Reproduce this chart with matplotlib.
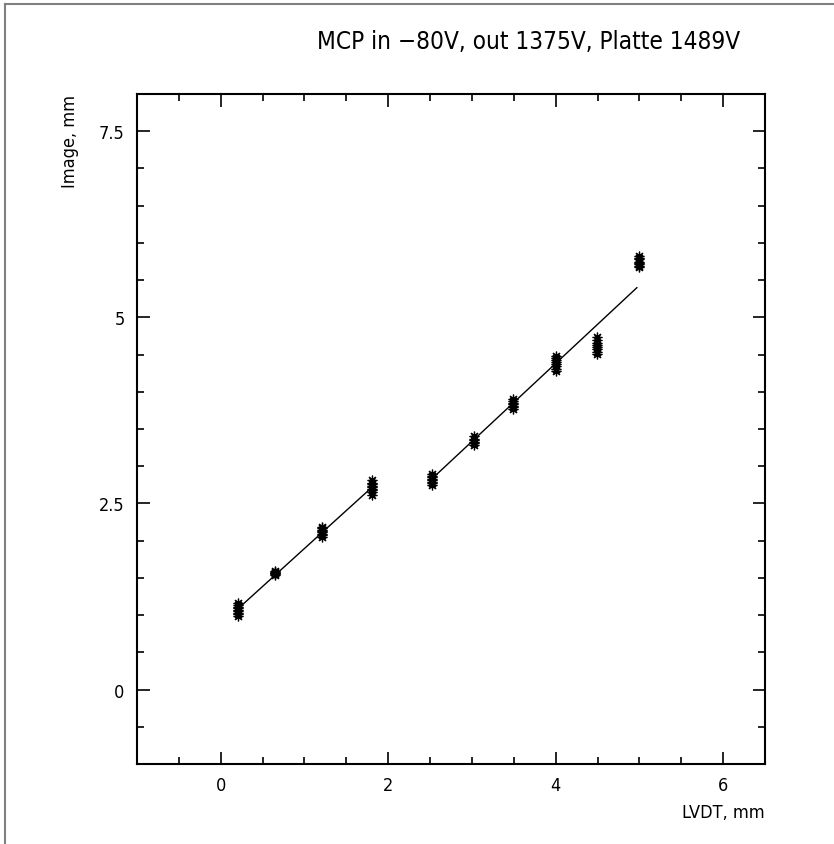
import numpy as np
import matplotlib.pyplot as plt
from matplotlib.lines import Line2D
from matplotlib.ticker import MultipleLocator

# LVDT positions (mm) and the image positions measured at each of them (mm)
lvdt = [0.21, 0.65, 1.21, 1.81, 2.52, 3.02, 3.49, 4.00, 4.49, 5.00]
image = [
    [0.99, 1.01, 1.03, 1.05, 1.07, 1.09, 1.11, 1.13, 1.16],
    [1.54, 1.55, 1.56, 1.57, 1.58, 1.59],
    [2.05, 2.07, 2.09, 2.11, 2.13, 2.15, 2.17, 2.19],
    [2.61, 2.65, 2.68, 2.70, 2.72, 2.74, 2.76, 2.78, 2.81],
    [2.75, 2.77, 2.79, 2.81, 2.83, 2.85, 2.87, 2.90],
    [3.29, 3.31, 3.33, 3.35, 3.37, 3.40],
    [3.77, 3.79, 3.81, 3.83, 3.85, 3.88, 3.90],
    [4.28, 4.31, 4.34, 4.37, 4.40, 4.43, 4.46, 4.48],
    [4.51, 4.54, 4.57, 4.60, 4.63, 4.66, 4.70, 4.73],
    [5.67, 5.69, 5.71, 5.73, 5.75, 5.78, 5.80, 5.82],
]

# linear fits: x range, slope, intercept
fit_ranges = [(0.21, 1.81), (2.52, 4.97)]
fit_slope = [1.02, 1.049]
fit_offset = [0.875, 0.185]

title = 'MCP in \u221280V, out 1375V, Platte 1489V'

plt.rcParams['font.family'] = ['DejaVu Sans']
plt.rcParams['font.stretch'] = 'condensed'

fig = plt.figure(figsize=(8.34, 8.45), dpi=100)
ax = fig.add_axes([137 / 834, 1 - 765 / 845, 628 / 834, 670 / 845])

for x, ys in zip(lvdt, image):
    ax.plot([x] * len(ys), ys, linestyle='none', marker=(8, 2, 0),
            markersize=7, color='black', markeredgewidth=0.9)

for (x0, x1), b, a in zip(fit_ranges, fit_slope, fit_offset):
    xs = np.array([x0, x1])
    ax.plot(xs, a + b * xs, color='black', linewidth=1.0)

ax.set_xlim(-1, 6.5)
ax.set_ylim(-1, 8)
ax.xaxis.set_minor_locator(MultipleLocator(0.5))
ax.yaxis.set_minor_locator(MultipleLocator(0.5))
ax.tick_params(which='both', direction='in', top=True, right=True,
               labelsize=13, width=1.2, color='black')
ax.tick_params(which='major', length=9, pad=9)
ax.tick_params(which='minor', length=5)
ax.set_xticks([0, 2, 4, 6])
ax.set_xticklabels(['0', '2', '4', '6'])
ax.set_yticks([0, 2.5, 5, 7.5])
ax.set_yticklabels(['0', '2.5', '5', '7.5'])
for s in ax.spines.values():
    s.set_linewidth(1.5)

ax.set_xlabel('LVDT, mm', fontsize=13, loc='right', labelpad=6)
ax.set_ylabel('Image, mm', fontsize=13, loc='top', labelpad=14)
fig.text(740 / 834, 1 - 42 / 845, title, fontsize=17.5, ha='right', va='center')

fig.add_artist(Line2D([5 / 834, 5 / 834], [0, 1 - 5 / 845], color='gray', linewidth=1.5))
fig.add_artist(Line2D([5 / 834, 1], [1 - 5 / 845, 1 - 5 / 845], color='gray', linewidth=1.5))

fig.savefig('out.png', dpi=100)
